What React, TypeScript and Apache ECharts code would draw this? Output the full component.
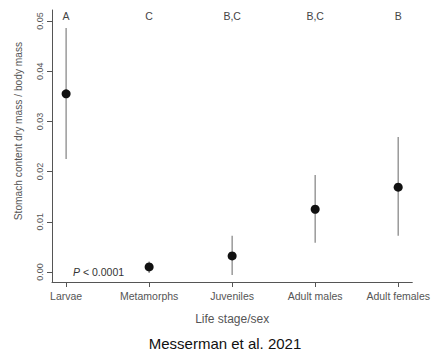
import React, { useEffect, useRef } from "react";
import * as echarts from "echarts";

const categories = ["Larvae", "Metamorphs", "Juveniles", "Adult males", "Adult females"];
const means = [0.0355, 0.001, 0.0032, 0.0125, 0.0169];
const lowers = [0.0225, -0.0002, -0.0006, 0.0058, 0.0072];
const uppers = [0.0486, 0.0021, 0.0072, 0.0193, 0.0269];
const letters = ["A", "C", "B,C", "B,C", "B"];
const yTicks = [0, 0.01, 0.02, 0.03, 0.04, 0.05];
const letterY = 0.051;

const FONT = "Liberation Sans, Arial, sans-serif";

export default function App() {
  const ref = useRef<HTMLDivElement>(null);
  useEffect(() => {
    document.body.style.margin = "0";
    const chart = echarts.init(ref.current!, null, { renderer: "svg" });
    const idx = categories.map((_, i) => i);
    chart.setOption({
      animation: false,
      backgroundColor: "#ffffff",
      grid: { left: 52, right: 20, top: 10, bottom: 70 },
      xAxis: {
        type: "value",
        min: -0.17,
        max: 4.17,
        splitLine: { show: false },
        axisLine: { show: true, onZero: false, lineStyle: { color: "#555", width: 1 } },
        axisTick: { show: true, customValues: idx, length: 5, lineStyle: { color: "#555" } },
        axisLabel: {
          customValues: idx,
          formatter: (v: number) => categories[Math.round(v)] ?? "",
          color: "#555",
          fontSize: 10.5,
          fontFamily: FONT,
          margin: 8,
        },
        name: "Life stage/sex",
        nameLocation: "middle",
        nameGap: 31,
        nameTextStyle: { color: "#555", fontSize: 12, fontFamily: FONT },
      },
      yAxis: {
        type: "value",
        min: -0.002,
        max: 0.0522,
        splitLine: { show: false },
        axisLine: { show: true, onZero: false, lineStyle: { color: "#555", width: 1 } },
        axisTick: { show: true, customValues: yTicks, length: 5, lineStyle: { color: "#555" } },
        axisLabel: {
          customValues: yTicks,
          formatter: (v: number) => v.toFixed(2),
          rotate: 90,
          color: "#555",
          fontSize: 9,
          fontFamily: FONT,
          margin: 8,
        },
      },
      series: [
        {
          type: "custom",
          data: idx.map((i) => [i, lowers[i], uppers[i]]),
          itemStyle: { color: "#8a8a8a" },
          renderItem: (params: any, api: any) => {
            const p1 = api.coord([api.value(0), api.value(1)]);
            const p2 = api.coord([api.value(0), api.value(2)]);
            return {
              type: "line",
              shape: { x1: p1[0], y1: p1[1], x2: p2[0], y2: p2[1] },
              style: { stroke: "#8a8a8a", lineWidth: 1.3 },
            };
          },
          z: 1,
        },
        {
          type: "scatter",
          data: idx.map((i) => [i, means[i]]),
          symbol: "circle",
          symbolSize: 9,
          itemStyle: { color: "#111", opacity: 1 },
          z: 3,
        },
      ],
    });
    const letterGraphics = idx.map((i) => {
      const p = chart.convertToPixel({ gridIndex: 0 }, [i, letterY]) as number[];
      return {
        type: "text",
        id: "letter" + i,
        x: p[0],
        y: p[1],
        style: {
          text: letters[i],
          fill: "#444",
          fontSize: 10.5,
          fontFamily: FONT,
          align: "center",
          verticalAlign: "middle",
        },
      };
    });
    chart.setOption({
      graphic: [
        {
          type: "text",
          id: "ytitle",
          x: 18,
          y: 131,
          rotation: Math.PI / 2,
          style: {
            text: "Stomach content dry mass / body mass",
            fill: "#555",
            fontSize: 10.2,
            fontFamily: FONT,
            align: "center",
            verticalAlign: "middle",
          },
        },
        {
          type: "text",
          id: "pval",
          x: 73,
          y: 272,
          style: {
            text: "{i|P} < 0.0001",
            rich: {
              i: { fontStyle: "italic", fill: "#333", fontSize: 10.5, fontFamily: FONT },
            },
            fill: "#333",
            fontSize: 10.5,
            fontFamily: FONT,
            verticalAlign: "middle",
          },
        },
        {
          type: "text",
          id: "credit",
          x: 225,
          y: 343,
          style: {
            text: "Messerman et al. 2021",
            fill: "#111",
            fontSize: 15,
            fontFamily: FONT,
            align: "center",
            verticalAlign: "middle",
          },
        },
        ...letterGraphics,
      ],
    });
    return () => chart.dispose();
  }, []);
  return <div ref={ref} style={{ width: 433, height: 352 }} />;
}
